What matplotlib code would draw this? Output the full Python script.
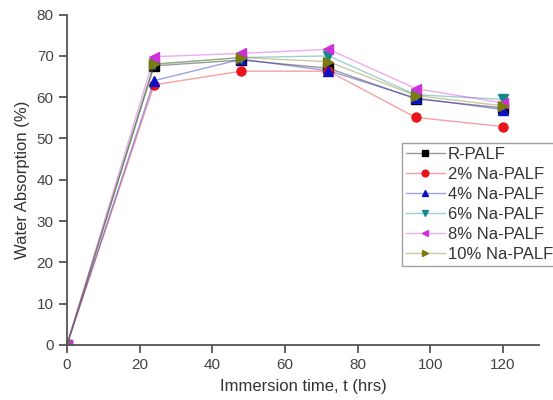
import numpy as np
import matplotlib.pyplot as plt
from matplotlib.colors import to_rgba

plt.rcParams['font.family'] = ['Liberation Sans', 'DejaVu Sans']

# immersion time (hrs)
hours = [0, 24, 48, 72, 96, 120]

# water absorption (%) per fibre treatment
r_palf = [0, 67.6, 69.0, 67.0, 59.6, 57.4]
na2 = [0, 63.0, 66.3, 66.3, 55.1, 52.9]
na4 = [0, 64.0, 69.2, 66.4, 59.8, 57.0]
na6 = [0, 68.0, 69.6, 70.0, 60.6, 59.5]
na8 = [0, 69.8, 70.6, 71.6, 62.1, 58.6]
na10 = [0, 68.0, 69.6, 68.6, 60.4, 57.9]

labels = ['R-PALF', '2% Na-PALF', '4% Na-PALF', '6% Na-PALF', '8% Na-PALF', '10% Na-PALF']
series = [r_palf, na2, na4, na6, na8, na10]
colors = ['#000000', '#e8141c', '#1010c0', '#128a8a', '#d030d8', '#7a7a10']
markers = ['s', 'o', '^', 'v', '<', '>']

fig = plt.figure(figsize=(5.53, 4.0), dpi=100)
ax = fig.add_axes([0.121, 0.1375, 0.854, 0.826])

for y, lab, c, m in zip(series, labels, colors, markers):
    light = to_rgba(c, 0.4)
    ax.plot(hours, y, color=light, lw=1.0, marker=m, markersize=6.5,
            markerfacecolor=c, markeredgecolor=c, label=lab)

ax.set_xlim(0, 130)
ax.set_ylim(0, 80)
ax.set_xticks(np.arange(0, 121, 20))
ax.set_yticks(np.arange(0, 81, 10))
for s in ['top', 'right']:
    ax.spines[s].set_visible(False)
for s in ['left', 'bottom']:
    ax.spines[s].set_color('#555555')
    ax.spines[s].set_linewidth(1.3)
ax.tick_params(colors='#555555', labelsize=11, length=6, width=1.3,
               labelcolor='#444444')
ax.set_xlabel('Immersion time, t (hrs)', fontsize=12, color='#333333', labelpad=5)
ax.set_ylabel('Water Absorption (%)', fontsize=12, color='#333333', labelpad=5)

leg = ax.legend(loc='upper left', bbox_to_anchor=(402 / 553, 1 - 143 / 400),
                bbox_transform=fig.transFigure, fontsize=12, frameon=True,
                fancybox=False, edgecolor='#888888', handlelength=2.3,
                handletextpad=0.2, labelspacing=0.3, borderpad=0.25,
                borderaxespad=0, markerscale=0.75)
for t in leg.get_texts():
    t.set_color('#333333')

fig.savefig('out.png', dpi=100)
